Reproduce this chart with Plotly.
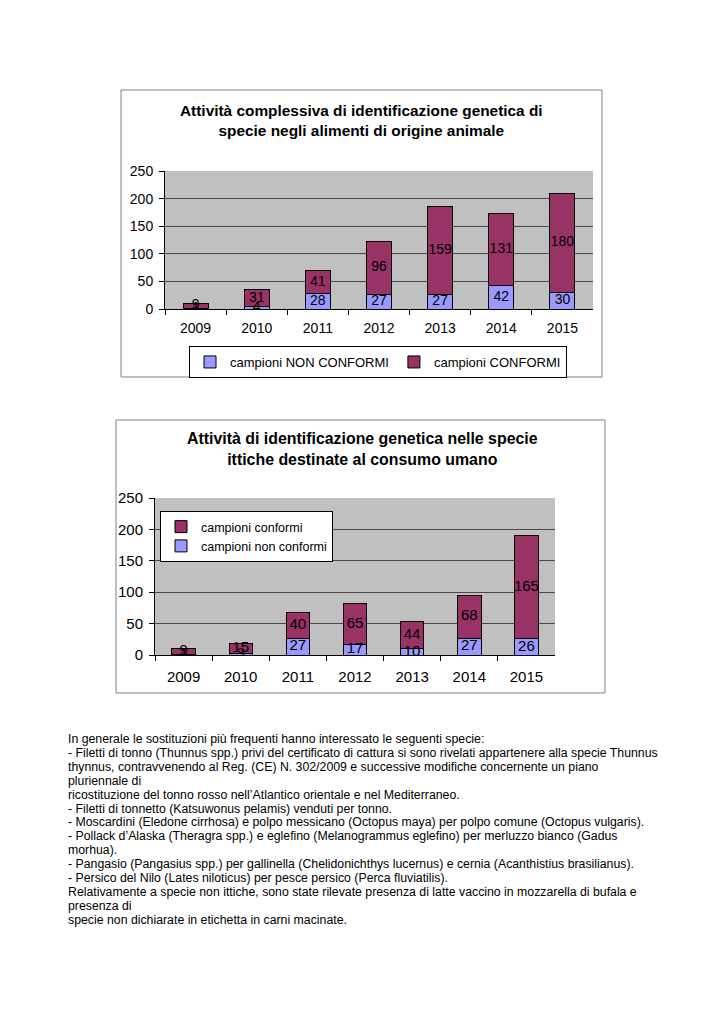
import plotly.graph_objects as go

years = ["2009", "2010", "2011", "2012", "2013", "2014", "2015"]

# Chart 1: all animal-origin foods
c1_non_conformi = [1, 4, 28, 27, 27, 42, 30]
c1_conformi = [9, 31, 41, 96, 159, 131, 180]

# Chart 2: fish species
c2_non_conformi = [1, 3, 27, 17, 10, 27, 26]
c2_conformi = [9, 15, 40, 65, 44, 68, 165]

title1 = "<b>Attività complessiva di identificazione genetica di<br>specie negli alimenti di origine animale</b>"
title2 = "<b>Attività di identificazione genetica nelle specie<br>ittiche destinate al consumo umano</b>"

paragraph = [
    "In generale le sostituzioni più frequenti hanno interessato le seguenti specie:",
    "- Filetti di tonno (Thunnus spp.) privi del certificato di cattura si sono rivelati appartenere alla specie Thunnus",
    "thynnus, contravvenendo al Reg. (CE) N. 302/2009 e successive modifiche concernente un piano",
    "pluriennale di",
    "ricostituzione del tonno rosso nell\u2019Atlantico orientale e nel Mediterraneo.",
    "- Filetti di tonnetto (Katsuwonus pelamis) venduti per tonno.",
    "- Moscardini (Eledone cirrhosa) e polpo messicano (Octopus maya) per polpo comune (Octopus vulgaris).",
    "- Pollack d\u2019Alaska (Theragra spp.) e eglefino (Melanogrammus eglefino) per merluzzo bianco (Gadus",
    "morhua).",
    "- Pangasio (Pangasius spp.) per gallinella (Chelidonichthys lucernus) e cernia (Acanthistius brasilianus).",
    "- Persico del Nilo (Lates niloticus) per pesce persico (Perca fluviatilis).",
    "Relativamente a specie non ittiche, sono state rilevate presenza di latte vaccino in mozzarella di bufala e",
    "presenza di",
    "specie non dichiarate in etichetta in carni macinate.",
]

W, H = 724, 1024
FONT = "Liberation Sans, Arial, sans-serif"
BLUE = "#9999FF"
MAROON = "#993366"


def px(x):
    return x / W


def py(y):
    return 1 - y / H


fig = go.Figure()

bar_common = dict(marker_line=dict(color="black", width=1), width=0.41, hoverinfo="x+y+name")


def add_chart(nc, c, name_nc, name_c, xa, ya, leg, lblsize):
    fig.add_trace(go.Bar(x=years, y=nc, name=name_nc, marker_color=BLUE,
                         xaxis=xa, yaxis=ya, legend=leg, **bar_common))
    fig.add_trace(go.Bar(x=years, y=c, name=name_c, marker_color=MAROON,
                         xaxis=xa, yaxis=ya, legend=leg, **bar_common))
    # value labels centred in each stacked segment
    fig.add_trace(go.Scatter(x=years, y=[v / 2 for v in nc], text=[str(v) for v in nc],
                             mode="text", textposition="middle center", showlegend=False,
                             textfont=dict(size=lblsize, color="black", family=FONT),
                             xaxis=xa, yaxis=ya, hoverinfo="skip"))
    fig.add_trace(go.Scatter(x=years, y=[a + b / 2 for a, b in zip(nc, c)], text=[str(v) for v in c],
                             mode="text", textposition="middle center", showlegend=False,
                             textfont=dict(size=lblsize, color="black", family=FONT),
                             xaxis=xa, yaxis=ya, hoverinfo="skip"))


add_chart(c1_non_conformi, c1_conformi, "campioni NON CONFORMI", "campioni CONFORMI",
          "x", "y", "legend", 14)
add_chart(c2_non_conformi, c2_conformi, "campioni non conformi", "campioni conformi",
          "x2", "y2", "legend2", 15)

xcommon = dict(type="category", showline=True, linecolor="black", linewidth=1,
               ticks="outside", tickson="boundaries", ticklen=5, tickcolor="black",
               showgrid=False, fixedrange=True, automargin=False, zeroline=False)
ycommon = dict(range=[0, 250], dtick=50, showline=True, linecolor="black", linewidth=1,
               ticks="outside", ticklen=5, tickcolor="black",
               showgrid=True, gridcolor="#4a4a4a", gridwidth=1, zeroline=False,
               fixedrange=True, automargin=False, ticklabelstandoff=3)

fig.update_layout(
    template="none",
    width=W, height=H,
    autosize=False,
    margin=dict(l=0, r=0, t=0, b=0, pad=0, autoexpand=False),
    paper_bgcolor="white",
    plot_bgcolor="#C0C0C0",
    barmode="stack",
    bargap=0.59,
    font=dict(family=FONT, color="black"),
    xaxis=dict(domain=[px(165), px(593)], anchor="y", ticklabelstandoff=6,
               tickfont=dict(size=14, family=FONT), **xcommon),
    yaxis=dict(domain=[py(309), py(171)], anchor="x",
               tickfont=dict(size=14, family=FONT), **ycommon),
    xaxis2=dict(domain=[px(155), px(555)], anchor="y2", ticklabelstandoff=8,
                tickfont=dict(size=15, family=FONT), **xcommon),
    yaxis2=dict(domain=[py(655), py(498)], anchor="x2",
                tickfont=dict(size=15, family=FONT), **ycommon),
    legend=dict(orientation="h", x=px(378), y=py(362), xanchor="center", yanchor="middle",
                bgcolor="white", bordercolor="black", borderwidth=1, traceorder="normal",
                font=dict(size=13, family=FONT), itemwidth=30, tracegroupgap=0),
    legend2=dict(orientation="v", x=px(160), y=py(511), xanchor="left", yanchor="top",
                 bgcolor="white", bordercolor="black", borderwidth=1, traceorder="reversed",
                 font=dict(size=12.5, family=FONT), itemwidth=30, tracegroupgap=0),
    showlegend=True,
)

shapes = [
    dict(type="rect", xref="paper", yref="paper", x0=px(121), x1=px(602), y0=py(377), y1=py(90),
         line=dict(color="#808080", width=1), fillcolor="rgba(0,0,0,0)", layer="below"),
    dict(type="rect", xref="paper", yref="paper", x0=px(116), x1=px(605), y0=py(693), y1=py(420),
         line=dict(color="#808080", width=1), fillcolor="rgba(0,0,0,0)", layer="below"),
]
fig.update_layout(shapes=shapes)

annotations = [
    dict(text=title1, x=px(361), y=py(120), xref="paper", yref="paper", showarrow=False,
         xanchor="center", yanchor="middle", font=dict(size=15.4, family=FONT)),
    dict(text=title2, x=px(362), y=py(449), xref="paper", yref="paper", showarrow=False,
         xanchor="center", yanchor="middle", font=dict(size=15.9, family=FONT)),
]
for i, line in enumerate(paragraph):
    annotations.append(dict(text=line, x=px(66), y=py(739 + i * 13.9), xref="paper", yref="paper",
                            showarrow=False, xanchor="left", yanchor="middle",
                            font=dict(size=12.3, family=FONT)))
fig.update_layout(annotations=annotations)

fig.write_html("out.html", config={"displayModeBar": False},
               post_script="document.body.style.margin='0';")
